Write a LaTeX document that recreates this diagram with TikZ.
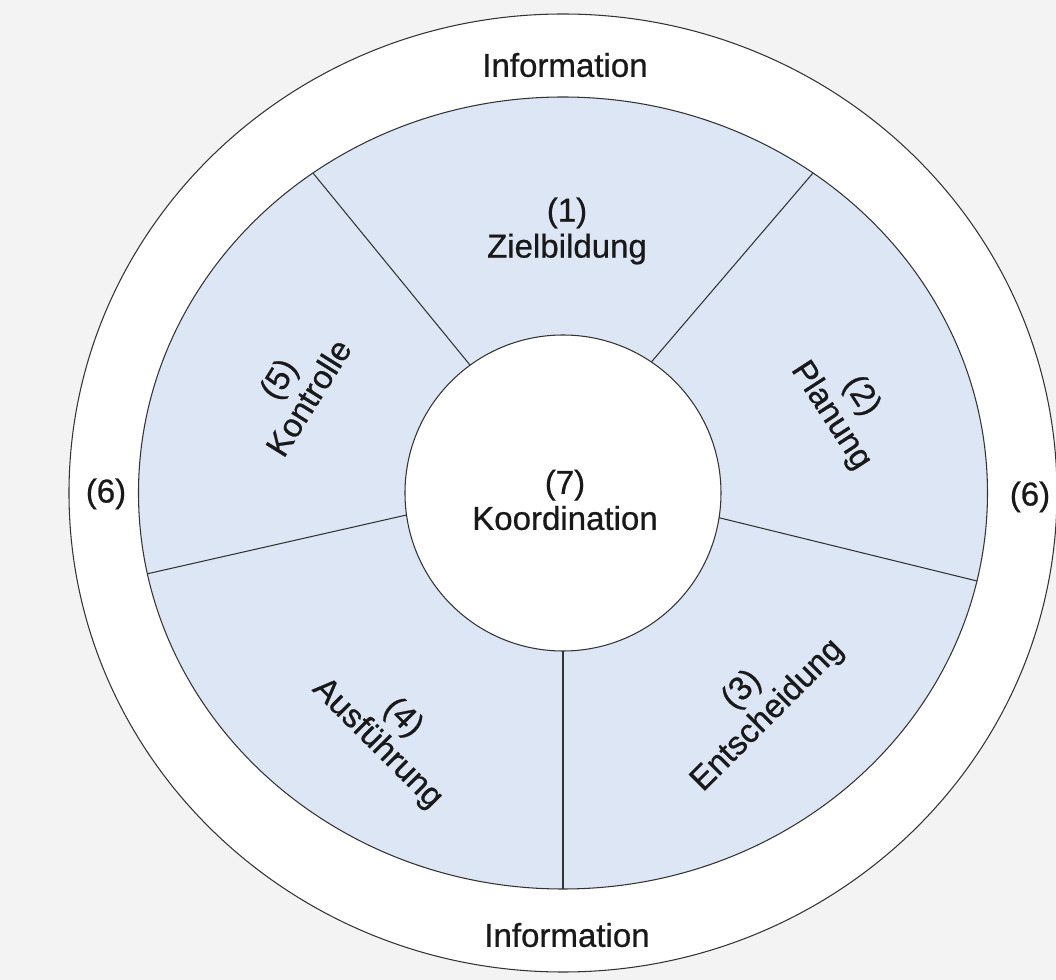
\documentclass[tikz,border=0pt]{standalone}
\usepackage{fontspec}
\setmainfont{Liberation Sans}
\newfontfamily\labelfont{Liberation Sans}[FakeBold=0.7]
\usetikzlibrary{calc}
\definecolor{ringblue}{RGB}{220,230,244}
\definecolor{paper}{RGB}{243,243,243}

\begin{document}
\begin{tikzpicture}[line width=0.6pt, draw=black!80,
        every node/.style={font=\labelfont\fontsize{18.8}{20.5}\selectfont, inner sep=1pt,
          align=center, text=black!90}]
        % Define points
        \coordinate (O) at (0,0);
        \fill[paper] (-11.26,-9.74) rectangle (9.86,9.86);
        \useasboundingbox (-11.26,-9.74) rectangle (9.86,9.86);

        % Outer ring and blue ring
        \draw[fill=white] (O) ellipse [x radius=9.88, y radius=9.58];
        \draw[fill=ringblue] (O) ellipse [x radius=8.49, y radius=7.92];

        % Draw the five dividers (inner angle / outer angle)
        \foreach \a/\b in {56/52, 126/128, 188/191, 270/270, -9/-12}
          \draw (\a:3.16) -- (\b:{1/sqrt((cos(\b)/8.49)^2+(sin(\b)/7.92)^2)});

        % Inner circle
        \node[circle, draw, fill=white, minimum size=6.32cm, inner sep=0pt] (koord) at (O) {};
        \node (koordtext) at (0.04,-0.14) {(7)\\Koordination};

        % Labels of the sectors
        \node (ziel) at (0.08,5.24) {(1)\\Zielbildung};
        \node[rotate=-57] (plan) at (5.66,1.74) {(2)\\Planung};
        \node[rotate=45] (entsch) at (3.84,-4.2) {(3)\\Entscheidung};
        \node[rotate=-45] (ausf) at (-3.46,-4.76) {(4)\\Ausführung};
        \node[rotate=58] (kontr) at (-5.4,2.1) {(5)\\Kontrolle};

        % Labels of the outer ring
        \node (infotop) at (0.04,8.56) {Information};
        \node (infobot) at (0.08,-8.84) {Information};
        \node (sixleft) at (-9.14,-0.02) {(6)};
        \node (sixright) at (9.34,-0.08) {(6)};
    \end{tikzpicture}
\end{document}
